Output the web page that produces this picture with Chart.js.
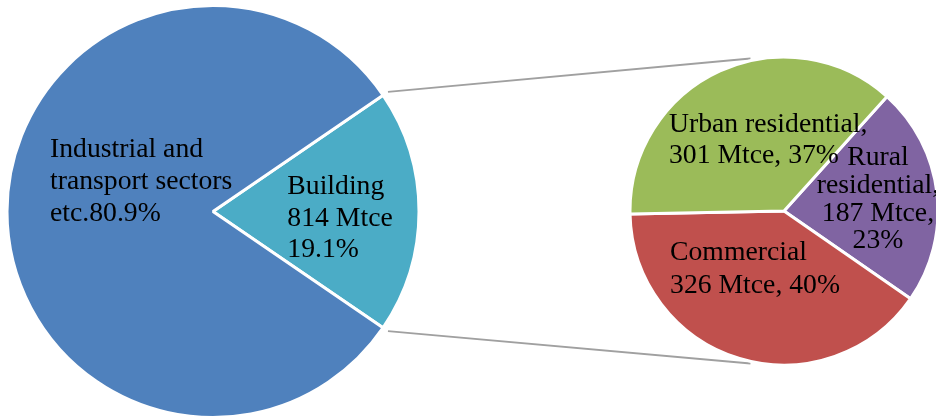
<!DOCTYPE html>
<html>
<head>
<meta charset="utf-8">
<script src="https://cdn.jsdelivr.net/npm/chart.js@4.4.1/dist/chart.umd.min.js"></script>
<style>
  html, body { margin: 0; padding: 0; background: #fff; }
  #wrap { position: relative; width: 936px; height: 417px; overflow: hidden; }
  #wrap canvas { position: absolute; }
  #links { left: 0; top: 0; }
  #mainPie { left: 0; top: 0; }
  #subPie { left: 628px; top: 55px; }
</style>
</head>
<body>
<div id="wrap">
  <canvas id="links" width="936" height="417"></canvas>
  <canvas id="mainPie" width="426" height="423"></canvas>
  <canvas id="subPie" width="312" height="312"></canvas>
</div>
<script>
  "use strict";

  // Total energy use: building share vs the rest (%)
  var mainLabels = ["Building", "Industrial and transport sectors etc."];
  var mainShares = [19.1, 80.9];
  var mainColors = ["#4BACC6", "#4F81BD"];
  var mainText = [
    ["Building", "814 Mtce", "19.1%"],
    ["Industrial and", "transport sectors", "etc.80.9%"],
  ];

  // Building energy split (Mtce)
  var subLabels = ["Rural residential", "Commercial", "Urban residential"];
  var subMtce = [187, 326, 301];
  var subColors = ["#8064A2", "#C0504D", "#9BBB59"];
  var subText = [
    ["Rural", "residential,", "187 Mtce,", "23%"],
    ["Commercial", "326 Mtce, 40%"],
    ["Urban residential,", "301 Mtce, 37%"],
  ];

  var FONT = "27.7px 'Liberation Serif', 'Times New Roman', serif";

  // Writes multi-line text inside each slice; dx/dy are fractions of the radius
  function sliceText(lines, place) {
    return {
      id: "sliceText",
      afterDatasetsDraw: function (chart) {
        var ctx = chart.ctx;
        var arcs = chart.getDatasetMeta(0).data;
        ctx.save();
        ctx.font = FONT;
        ctx.fillStyle = "#000";
        ctx.textBaseline = "alphabetic";
        lines.forEach(function (rows, i) {
          var arc = arcs[i], p = place[i];
          var x = arc.x + p.dx * arc.outerRadius;
          var y = arc.y + p.dy * arc.outerRadius;
          ctx.textAlign = p.align;
          rows.forEach(function (t, k) {
            ctx.fillText(t, x, y + k * p.lh);
          });
        });
        ctx.restore();
      },
    };
  }

  function pieOptions(rotation) {
    return {
      responsive: false,
      animation: false,
      events: [],
      rotation: rotation,
      layout: { padding: 0 },
      plugins: {
        legend: { display: false },
        tooltip: { enabled: false },
      },
    };
  }

  // Main pie, building slice centred on the right-hand side
  var mainChart = new Chart(document.getElementById("mainPie"), {
    type: "pie",
    data: {
      labels: mainLabels,
      datasets: [
        {
          data: mainShares,
          backgroundColor: mainColors,
          borderColor: "#fff",
          borderWidth: 3,
          radius: 206,
        },
      ],
    },
    options: pieOptions(90 - mainShares[0] * 1.8),
    plugins: [
      sliceText(mainText, [
        { dx: 0.361, dy: -0.083, align: "left", lh: 31.5 },
        { dx: -0.791, dy: -0.266, align: "left", lh: 32 },
      ]),
    ],
  });

  // Secondary pie with the building breakdown
  var subChart = new Chart(document.getElementById("subPie"), {
    type: "pie",
    data: {
      labels: subLabels,
      datasets: [
        {
          data: subMtce,
          backgroundColor: subColors,
          borderColor: "#fff",
          borderWidth: 3,
          radius: 154,
        },
      ],
    },
    options: pieOptions(42),
    plugins: [
      sliceText(subText, [
        { dx: 0.61, dy: -0.299, align: "center", lh: 27.8 },
        { dx: -0.74, dy: 0.318, align: "left", lh: 33 },
        { dx: -0.747, dy: -0.513, align: "left", lh: 31 },
      ]),
    ],
  });

  // Connector lines from the building slice to the secondary pie
  (function () {
    var mainCv = document.getElementById("mainPie");
    var subCv = document.getElementById("subPie");
    var ctx = document.getElementById("links").getContext("2d");
    var b = mainChart.getDatasetMeta(0).data[0];
    var s = subChart.getDatasetMeta(0).data[0];
    var bx = mainCv.offsetLeft + b.x, by = mainCv.offsetTop + b.y;
    var sx = subCv.offsetLeft + s.x, sy = subCv.offsetTop + s.y;
    var r0 = b.outerRadius + 6;
    var r1 = s.outerRadius - 1.5;

    ctx.strokeStyle = "#A0A0A0";
    ctx.lineWidth = 1.8;
    [b.startAngle, b.endAngle].forEach(function (a, k) {
      var side = k === 0 ? -1 : 1;
      ctx.beginPath();
      ctx.moveTo(bx + r0 * Math.cos(a), by + r0 * Math.sin(a));
      ctx.lineTo(sx - 0.22 * r1, sy + side * r1);
      ctx.stroke();
    });
  })();
</script>
</body>
</html>
